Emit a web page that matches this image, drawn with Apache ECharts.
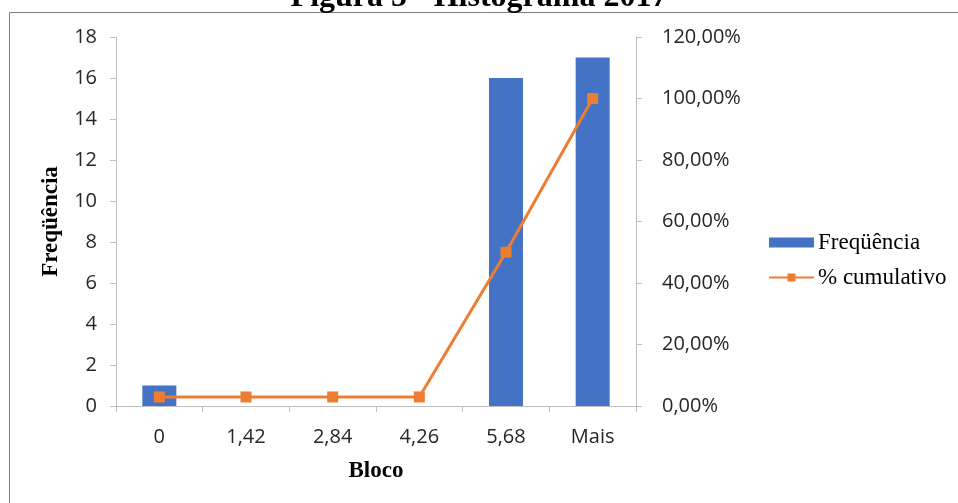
<!DOCTYPE html>
<html>
<head>
<meta charset="utf-8">
<script src="https://cdn.jsdelivr.net/npm/echarts@6/dist/echarts.min.js"></script>
<style>
  html, body { margin: 0; padding: 0; background: #fff; }
  #chart { width: 958px; height: 503px; }
</style>
</head>
<body>
<div id="chart"></div>
<script>
// Histogram bins, counts and cumulative percentage
const categories = ['0', '1,42', '2,84', '4,26', '5,68', 'Mais'];
const frequencia = [1, 0, 0, 0, 16, 17];
const cumulativo = [0.0294, 0.0294, 0.0294, 0.0294, 0.50, 1.00];
const leftTicks = { min: 0, max: 18, interval: 2 };
const rightTicks = { min: 0, max: 1.2, interval: 0.2 };

const BLUE = '#4472C4';
const ORANGE = '#ED7D31';
const AXIS = '#BFBFBF';
const LABEL = '#262626';
const SANS = '"Open Sans", "Noto Sans", sans-serif';
const SERIF = '"Liberation Serif", "DejaVu Serif", serif';

function pct(v) {
  return (v * 100).toFixed(2).replace('.', ',') + '%';
}

const chart = echarts.init(document.getElementById('chart'));
chart.setOption({
  animation: false,
  backgroundColor: '#fff',
  graphic: [
    {
      type: 'rect',
      shape: { x: 9.5, y: 12.5, width: 960, height: 500 },
      style: { fill: 'none', stroke: '#808080', lineWidth: 1 },
      silent: true
    },
    {
      type: 'text',
      x: 479, y: 14,
      style: {
        text: 'Figura 5 - Histograma 2017',
        font: 'bold 32px ' + SERIF,
        fill: '#000',
        align: 'center',
        verticalAlign: 'bottom'
      },
      silent: true
    }
  ],
  grid: { left: 116, right: 322, top: 37, bottom: 97, containLabel: false },
  legend: {
    orient: 'vertical',
    left: 763,
    top: 226,
    itemWidth: 45,
    itemHeight: 10,
    itemGap: 12,
    textStyle: { fontFamily: SERIF, fontSize: 23, color: '#000', padding: [0, 0, 0, -1] },
    data: [
      { name: 'Freqüência', icon: 'rect' },
      { name: '% cumulativo' }
    ]
  },
  xAxis: {
    type: 'category',
    data: categories,
    boundaryGap: true,
    name: 'Bloco',
    nameLocation: 'middle',
    nameGap: 54,
    nameTextStyle: { fontFamily: SERIF, fontWeight: 'bold', fontSize: 23, color: '#000' },
    axisLine: { lineStyle: { color: AXIS, width: 1 } },
    axisTick: { show: true, length: 6, lineStyle: { color: AXIS } },
    axisLabel: { margin: 21, fontFamily: SANS, fontSize: 20, color: LABEL },
    splitLine: { show: false }
  },
  yAxis: [
    {
      type: 'value',
      min: leftTicks.min, max: leftTicks.max, interval: leftTicks.interval,
      name: 'Freqüência',
      nameLocation: 'middle',
      nameRotate: 90,
      nameGap: 53,
      nameTextStyle: { fontFamily: SERIF, fontWeight: 'bold', fontSize: 23, color: '#000' },
      axisLine: { show: true, lineStyle: { color: AXIS, width: 1 } },
      axisTick: { show: true, length: 6, lineStyle: { color: AXIS } },
      axisLabel: { margin: 19, fontFamily: SANS, fontSize: 20, color: LABEL },
      splitLine: { show: false }
    },
    {
      type: 'value',
      position: 'right',
      min: rightTicks.min, max: rightTicks.max, interval: rightTicks.interval,
      axisLine: { show: true, lineStyle: { color: AXIS, width: 1 } },
      axisTick: { show: true, length: 6, lineStyle: { color: AXIS } },
      axisLabel: { margin: 26, fontFamily: SANS, fontSize: 20, color: LABEL, formatter: pct },
      splitLine: { show: false }
    }
  ],
  series: [
    {
      name: 'Freqüência',
      type: 'bar',
      data: frequencia,
      barWidth: 34,
      itemStyle: { color: BLUE },
      yAxisIndex: 0
    },
    {
      name: '% cumulativo',
      type: 'line',
      data: cumulativo,
      yAxisIndex: 1,
      symbol: 'rect',
      symbolSize: 11,
      lineStyle: { color: ORANGE, width: 3 },
      itemStyle: { color: ORANGE }
    }
  ]
});
</script>
</body>
</html>
